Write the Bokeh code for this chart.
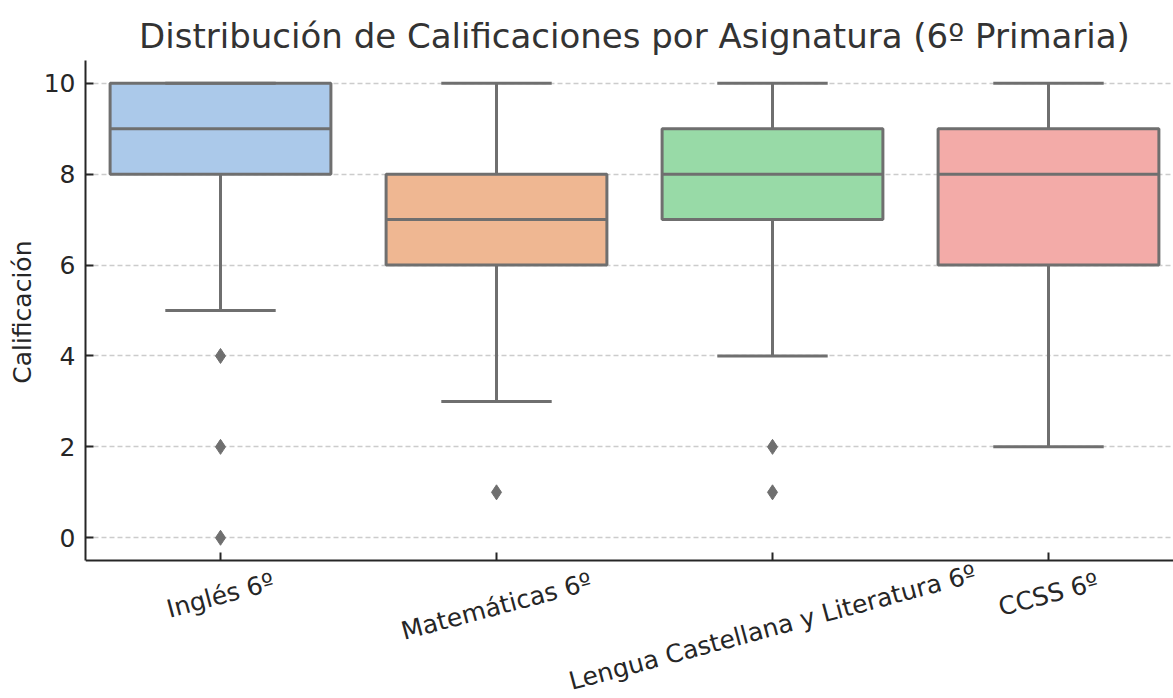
from bokeh.plotting import figure
from bokeh.models import Range1d, FixedTicker, Label, Title
from bokeh.embed import file_html
from bokeh.resources import INLINE

# ---- data ----
subjects = ["Inglés 6º", "Matemáticas 6º", "Lengua Castellana y Literatura 6º", "CCSS 6º"]
q1 = [8, 6, 7, 6]
median = [9, 7, 8, 8]
q3 = [10, 8, 9, 9]
whisker_low = [5, 3, 4, 2]
whisker_high = [10, 10, 10, 10]
outliers = [[4, 2, 0], [1], [2, 1], []]
colors = ["#abc9ea", "#efb792", "#98daa7", "#f3aba8"]
yticks = [0, 2, 4, 6, 8, 10]
title_text = "Distribución de Calificaciones por Asignatura (6º Primaria)"
ylabel_text = "Calificación"

# ---- layout / style ----
FONT = "DejaVu Sans"
GRAY = "#6f6f6f"
DARK = "#262626"
BOX_W = 0.8
CAP_W = 0.4
W, H = 1173, 698
LEFT = 85                 # frame left edge (px)
AX_TOP, AX_BOTTOM = 60, 560   # pixel rows of the axes box
Y0, Y1 = -0.5, 10.5
PX_Y = (AX_BOTTOM - AX_TOP) / (Y1 - Y0)
PX_X = 276.0
X_FIRST_PX = 220

xs = list(range(len(subjects)))

x_start = xs[0] - (X_FIRST_PX - LEFT) / PX_X
x_end = xs[0] + (W - X_FIRST_PX) / PX_X
y_start = Y0 - (H - AX_BOTTOM) / PX_Y
y_end = Y1 + AX_TOP / PX_Y

p = figure(width=W, height=H,
           x_range=Range1d(x_start, x_end), y_range=Range1d(y_start, y_end),
           output_backend="svg", toolbar_location=None,
           min_border_left=LEFT, min_border_right=0,
           min_border_top=0, min_border_bottom=0)
p.outline_line_color = None
p.background_fill_color = "white"
p.border_fill_color = "white"

# grid
p.xgrid.visible = False
p.ygrid.ticker = FixedTicker(ticks=yticks)
p.ygrid.grid_line_color = "#cccccc"
p.ygrid.grid_line_dash = "5 3"
p.ygrid.grid_line_width = 1.3

# axes
p.yaxis.ticker = FixedTicker(ticks=yticks)
p.yaxis.bounds = (Y0, Y1)
p.xaxis.ticker = FixedTicker(ticks=xs)
p.xaxis.fixed_location = Y0
p.xaxis.major_label_overrides = {i: "" for i in xs}
p.xaxis.major_label_text_font_size = "0px"
p.xaxis.major_label_standoff = 0
for ax in (p.xaxis[0], p.yaxis[0]):
    ax.major_tick_in = 8
    ax.major_tick_out = 0
    ax.minor_tick_line_color = None
    ax.major_tick_line_color = DARK
    ax.major_tick_line_width = 2
    ax.axis_line_color = DARK
    ax.axis_line_width = 2
p.yaxis.major_label_text_font = FONT
p.yaxis.major_label_text_font_size = "25px"
p.yaxis.major_label_text_color = DARK
p.yaxis.major_label_standoff = 10

# y-axis title, aligned with the axes box (not the taller frame)
p.add_layout(Title(text=ylabel_text, align="right", offset=240,
                   text_font=FONT, text_font_size="25px",
                   text_font_style="normal", text_color=DARK,
                   standoff=8), "left")

# whiskers
p.segment(x0=xs, y0=q3, x1=xs, y1=whisker_high, line_color=GRAY, line_width=3)
p.segment(x0=xs, y0=q1, x1=xs, y1=whisker_low, line_color=GRAY, line_width=3)
# boxes
p.vbar(x=xs, width=BOX_W, bottom=q1, top=q3, fill_color=colors,
       line_color=GRAY, line_width=3)
# medians
p.segment(x0=[x - BOX_W / 2 for x in xs], y0=median,
          x1=[x + BOX_W / 2 for x in xs], y1=median,
          line_color=GRAY, line_width=3)
# caps
for vals in (whisker_low, whisker_high):
    p.segment(x0=[x - CAP_W / 2 for x in xs], y0=vals,
              x1=[x + CAP_W / 2 for x in xs], y1=vals,
              line_color=GRAY, line_width=3)
# outliers
ox = [x for x, vals in zip(xs, outliers) for _ in vals]
oy = [v for vals in outliers for v in vals]
p.scatter(x=ox, y=oy, marker="diamond", size=15,
          fill_color=GRAY, line_color=GRAY)

# rotated category labels (centre-anchored, like the reference)
label_drop_px = [35, 46, 67, 34]
for x, name, drop in zip(xs, subjects, label_drop_px):
    p.add_layout(Label(x=x, y=Y0 - drop / PX_Y, text=name,
                       angle=15, angle_units="deg",
                       text_align="center", text_baseline="middle",
                       text_font=FONT, text_font_size="25px",
                       text_color=DARK))

# title
p.add_layout(Label(x=(xs[0] + xs[-1]) / 2, y=Y1 + 24.5 / PX_Y,
                   text=title_text, text_align="center",
                   text_baseline="alphabetic", text_font=FONT,
                   text_font_size="34px", text_color="#333333"))

open("out.html", "w").write(file_html(p, INLINE))
